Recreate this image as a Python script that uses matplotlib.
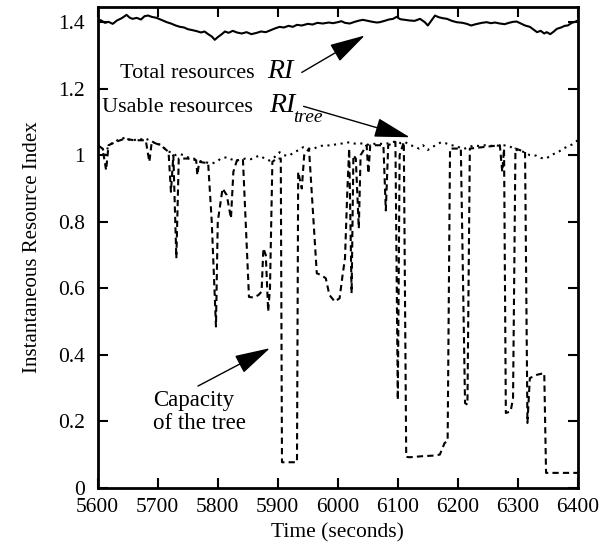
import matplotlib
matplotlib.use("Agg")
import matplotlib.pyplot as plt

plt.rcParams['font.family'] = ['Liberation Serif', 'DejaVu Serif']

# Total resources RI
total_t = [5600, 5605, 5612, 5618, 5625, 5632, 5640, 5648, 5653, 5658, 5665, 5672, 5678,
           5684, 5690, 5698, 5706, 5715, 5722, 5730, 5737, 5744, 5750, 5758, 5765, 5772,
           5778, 5784, 5790, 5795, 5800, 5806, 5812, 5818, 5825, 5832, 5840, 5848, 5856,
           5865, 5872, 5880, 5887, 5895, 5903, 5910, 5918, 5925, 5932, 5940, 5950, 5958,
           5966, 5975, 5985, 5992, 6000, 6006, 6012, 6020, 6028, 6036, 6042, 6050, 6058,
           6065, 6070, 6078, 6085, 6092, 6098, 6104, 6112, 6120, 6128, 6137, 6145, 6150,
           6156, 6162, 6168, 6175, 6182, 6190, 6198, 6208, 6215, 6222, 6230, 6240, 6248,
           6255, 6262, 6270, 6278, 6285, 6292, 6298, 6305, 6312, 6320, 6326, 6332, 6338,
           6344, 6348, 6354, 6360, 6365, 6372, 6378, 6383, 6390, 6395, 6400]
total_ri = [1.404, 1.406, 1.398, 1.401, 1.395, 1.405, 1.412, 1.422, 1.414, 1.410, 1.413,
            1.408, 1.418, 1.420, 1.416, 1.413, 1.407, 1.400, 1.396, 1.390, 1.386, 1.384,
            1.379, 1.376, 1.373, 1.369, 1.372, 1.364, 1.357, 1.347, 1.355, 1.363, 1.372,
            1.368, 1.374, 1.369, 1.366, 1.370, 1.364, 1.368, 1.372, 1.370, 1.375, 1.381,
            1.386, 1.384, 1.389, 1.386, 1.392, 1.390, 1.395, 1.393, 1.398, 1.396, 1.399,
            1.397, 1.400, 1.403, 1.398, 1.396, 1.401, 1.405, 1.407, 1.404, 1.401, 1.399,
            1.400, 1.404, 1.408, 1.410, 1.416, 1.409, 1.407, 1.405, 1.404, 1.410, 1.400,
            1.390, 1.405, 1.420, 1.415, 1.412, 1.410, 1.404, 1.400, 1.398, 1.395, 1.390,
            1.394, 1.398, 1.400, 1.397, 1.399, 1.396, 1.394, 1.398, 1.401, 1.402, 1.396,
            1.390, 1.386, 1.378, 1.370, 1.374, 1.366, 1.370, 1.364, 1.372, 1.380, 1.384,
            1.389, 1.390, 1.398, 1.401, 1.405]

# Usable resources RI_tree
usable_t = [5600, 5608, 5613, 5618, 5627, 5633, 5640, 5648, 5655, 5662, 5670, 5678, 5685,
            5692, 5700, 5708, 5715, 5722, 5730, 5738, 5745, 5752, 5760, 5768, 5775, 5782,
            5790, 5798, 5805, 5815, 5822, 5830, 5838, 5846, 5855, 5862, 5870, 5878, 5886,
            5895, 5903, 5910, 5918, 5925, 5935, 5942, 5950, 5958, 5965, 5972, 5980, 5988,
            5995, 6003, 6012, 6020, 6028, 6036, 6045, 6052, 6060, 6068, 6075, 6082, 6090,
            6098, 6105, 6112, 6120, 6128, 6135, 6142, 6150, 6158, 6165, 6172, 6180, 6188,
            6195, 6202, 6210, 6218, 6226, 6235, 6245, 6255, 6262, 6270, 6280, 6288, 6296,
            6304, 6312, 6320, 6330, 6338, 6345, 6352, 6360, 6368, 6375, 6382, 6390, 6396, 6400]
usable_ri = [1.034, 1.020, 1.000, 1.030, 1.039, 1.045, 1.050, 1.054, 1.042, 1.046, 1.050,
             1.044, 1.049, 1.040, 1.035, 1.028, 1.012, 1.009, 1.000, 1.003, 0.999, 0.992,
             0.990, 0.984, 0.980, 0.978, 0.975, 0.980, 0.990, 0.994, 0.988, 0.984, 0.986,
             0.990, 0.988, 0.994, 0.999, 0.990, 0.984, 0.995, 1.009, 1.000, 0.998, 1.006,
             1.016, 1.024, 1.020, 1.018, 1.024, 1.028, 1.030, 1.029, 1.032, 1.034, 1.037,
             1.039, 1.035, 1.036, 1.034, 1.031, 1.034, 1.036, 1.033, 1.035, 1.039, 1.042,
             1.036, 1.040, 1.030, 1.027, 1.020, 1.030, 1.016, 1.025, 1.032, 1.039, 1.036,
             1.030, 1.029, 1.024, 1.019, 1.024, 1.029, 1.028, 1.030, 1.028, 1.030, 1.028,
             1.030, 1.025, 1.016, 1.014, 1.008, 1.000, 0.999, 0.992, 0.990, 0.995, 1.004,
             1.010, 1.020, 1.025, 1.032, 1.040, 1.045]

# Capacity of the tree
cap_t = [5600, 5608, 5614, 5618, 5630, 5645, 5660, 5680, 5686, 5690, 5705, 5718, 5722,
         5726, 5731, 5735, 5750, 5764, 5766, 5769, 5784, 5790, 5797, 5800, 5808, 5815,
         5822, 5826, 5832, 5842, 5852, 5860, 5868, 5873, 5876, 5880, 5884, 5887, 5891,
         5898, 5905, 5907, 5925, 5932, 5934, 5940, 5944, 5952, 5965, 5972, 5980, 5986,
         5995, 6003, 6008, 6012, 6016, 6019, 6023, 6026, 6030, 6035, 6038, 6048, 6051,
         6054, 6076, 6080, 6084, 6096, 6100, 6103, 6110, 6114, 6120, 6140, 6160, 6170,
         6178, 6183, 6187, 6205, 6212, 6216, 6220, 6270, 6274, 6277, 6280, 6288, 6292,
         6296, 6312, 6316, 6320, 6332, 6344, 6347, 6380, 6400]
cap_ri = [1.030, 1.020, 0.955, 1.030, 1.040, 1.050, 1.045, 1.045, 0.980, 1.040, 1.030,
          1.010, 0.890, 1.000, 0.690, 0.990, 0.990, 0.985, 0.940, 0.980, 0.976, 0.800,
          0.485, 0.800, 0.900, 0.880, 0.810, 0.950, 0.985, 0.985, 0.574, 0.572, 0.580,
          0.590, 0.720, 0.700, 0.530, 0.600, 0.980, 0.990, 0.990, 0.077, 0.077, 0.077,
          0.950, 0.900, 1.000, 1.020, 0.645, 0.640, 0.630, 0.580, 0.560, 0.570, 0.640,
          0.690, 0.900, 1.020, 0.585, 1.000, 0.990, 0.780, 1.000, 1.030, 0.945, 1.030,
          1.030, 0.834, 1.030, 1.040, 0.264, 1.000, 1.040, 0.093, 0.092, 0.095, 0.097,
          0.100, 0.135, 0.140, 1.020, 1.020, 0.255, 0.250, 1.020, 1.030, 0.950, 1.020,
          0.225, 0.230, 0.270, 1.020, 1.010, 0.195, 0.330, 0.340, 0.345, 0.045, 0.045,
          0.045]

x_ticks = [5600, 5700, 5800, 5900, 6000, 6100, 6200, 6300, 6400]
y_ticks = [0, 0.2, 0.4, 0.6, 0.8, 1.0, 1.2, 1.4]
y_tick_labels = ['0', '0.2', '0.4', '0.6', '0.8', '1', '1.2', '1.4']

fig = plt.figure(figsize=(6.07, 5.55), dpi=100)
ax = fig.add_axes([0.161, 0.121, 0.791, 0.866])

ax.plot(total_t, total_ri, color='black', lw=1.5)
ax.plot(usable_t, usable_ri, color='black', lw=1.5, dashes=(1.0, 2.2))
ax.plot(cap_t, cap_ri, color='black', lw=1.5, dashes=(3, 2))

ax.set_xlim(5600, 6400)
ax.set_ylim(0, 1.445)
ax.set_xticks(x_ticks)
ax.set_yticks(y_ticks)
ax.set_yticklabels(y_tick_labels)
ax.tick_params(direction='in', length=7, width=1.5, top=True, right=True,
               labelsize=15.5)
ax.tick_params(axis='y', pad=9)
ax.tick_params(axis='x', pad=7)
for s in ax.spines.values():
    s.set_linewidth(2)

ax.set_xlabel('Time (seconds)', fontsize=15.5, labelpad=5)
ax.set_ylabel('Instantaneous Resource Index', fontsize=15, labelpad=12)

arrow = dict(arrowstyle='-|>,head_length=1.4,head_width=0.38', color='black',
             lw=1, shrinkA=0, shrinkB=0, mutation_scale=16)

ax.text(5862, 1.231, 'Total resources', fontsize=16, ha='right', va='baseline')
ax.text(5883, 1.231, 'RI', fontsize=20, style='italic', va='baseline')
ax.annotate('', xy=(6045, 1.36), xytext=(5940, 1.249), arrowprops=arrow)

ax.text(5858, 1.129, 'Usable resources', fontsize=16, ha='right', va='baseline')
ax.text(5885, 1.129, 'RI', fontsize=20, style='italic', va='baseline')
ax.text(5926, 1.100, 'tree', fontsize=14, style='italic', va='baseline')
ax.annotate('', xy=(6120, 1.054), xytext=(5943, 1.147), arrowprops=arrow)

ax.text(5692, 0.246, 'Capacity', fontsize=16.5, va='baseline')
ax.text(5692, 0.177, 'of the tree', fontsize=16.5, va='baseline')
ax.annotate('', xy=(5887, 0.42), xytext=(5767, 0.306), arrowprops=arrow)

fig.savefig('out.png', dpi=100)
